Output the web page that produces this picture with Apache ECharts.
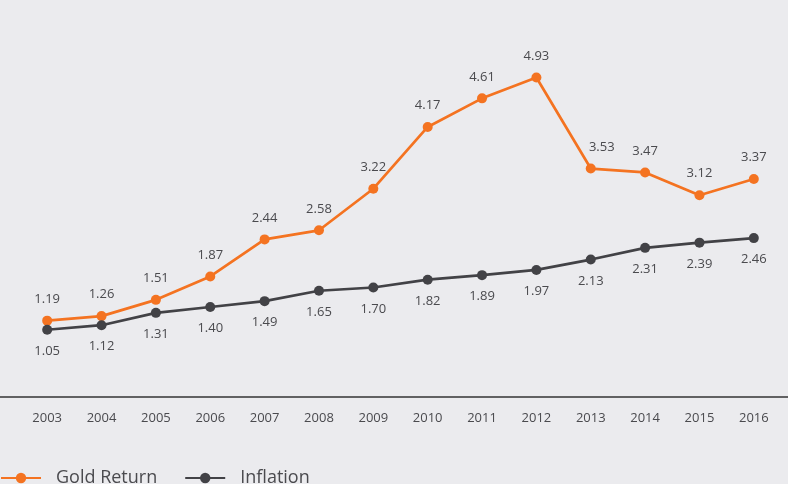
<!DOCTYPE html>
<html><head><meta charset="utf-8">
<script src="https://cdn.jsdelivr.net/npm/echarts@6/dist/echarts.min.js"></script>
<style>html,body{margin:0;padding:0;background:#ebebee;}#c{width:788px;height:484px;}</style>
</head><body><div id="c"></div>
<script>
const years = ['2003','2004','2005','2006','2007','2008','2009','2010','2011','2012','2013','2014','2015','2016'];
const goldReturn = [1.19,1.26,1.51,1.87,2.44,2.58,3.22,4.17,4.61,4.93,3.53,3.47,3.12,3.37];
const inflation = [1.05,1.12,1.31,1.40,1.49,1.65,1.70,1.82,1.89,1.97,2.13,2.31,2.39,2.46];

const chart = echarts.init(document.getElementById('c'));
const font = 'Open Sans';
chart.setOption({
  backgroundColor: '#ebebee',
  animation: false,
  grid: {left: 20, right: 7, top: 8, bottom: 86},
  legend: {
    left: -5, top: 464, itemWidth: 40, itemHeight: 13, itemGap: 27,
    textStyle: {fontFamily: font, fontSize: 18, color: '#4a4a4e', padding: [0,0,0,10]},
    data: ['Gold Return','Inflation']
  },
  xAxis: {
    type: 'category', data: years, boundaryGap: true,
    axisLine: {show: false},
    axisTick: {show: false},
    axisLabel: {fontFamily: font, fontSize: 13, color: '#4a4a4e', margin: 14}
  },
  yAxis: {type: 'value', min: 0, max: 6, show: false, splitLine: {show: false}},
  graphic: [{type: 'line', shape: {x1: 0, y1: 397, x2: 788, y2: 397}, style: {stroke: '#333', lineWidth: 1.5}}],
  labelLayout: function (p) {
    if (p.seriesIndex === 0 && p.dataIndex === 10) { return {dx: 11}; }
  },
  series: [
    {name: 'Gold Return', type: 'line', data: goldReturn, symbol: 'circle', symbolSize: 10,
     itemStyle: {color: '#f47321'}, lineStyle: {width: 2.7, color: '#f47321'},
     label: {show: true, position: 'top', distance: 10, formatter: p => p.value.toFixed(2), fontFamily: font, fontSize: 13, color: '#4a4a4e'}},
    {name: 'Inflation', type: 'line', data: inflation, symbol: 'circle', symbolSize: 10,
     itemStyle: {color: '#424246'}, lineStyle: {width: 2.7, color: '#424246'},
     label: {show: true, position: 'bottom', distance: 10, formatter: p => p.value.toFixed(2), fontFamily: font, fontSize: 13, color: '#4a4a4e'}}
  ]
});
</script></body></html>
